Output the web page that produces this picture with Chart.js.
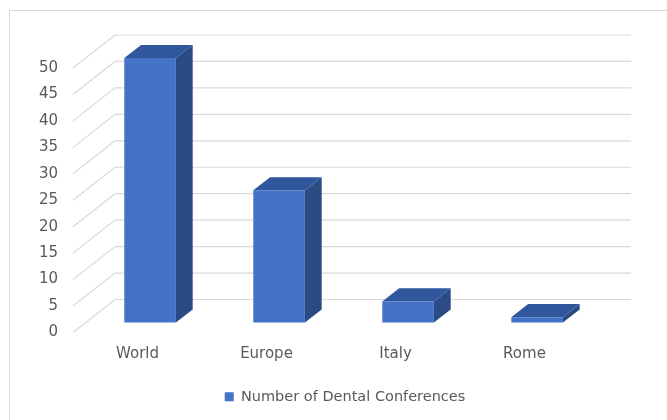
<!DOCTYPE html>
<html>
<head>
<meta charset="utf-8">
<script src="https://cdn.jsdelivr.net/npm/chart.js@4/dist/chart.umd.min.js"></script>
<style>
  html, body { margin: 0; padding: 0; background: #fff; }
  #wrap { position: relative; width: 667px; height: 420px; }
</style>
</head>
<body>
<div id="wrap"><canvas id="c" width="667" height="420"></canvas></div>
<script>
const categories = ["World", "Europe", "Italy", "Rome"];
const seriesName = "Number of Dental Conferences";
const conferences = [50, 25, 4, 1];
const yTickValues = [0, 5, 10, 15, 20, 25, 30, 35, 40, 45, 50];

const FONT = "'DejaVu Sans', sans-serif";
const TEXT = '#595959';
const FRONT = '#4472C4', TOP = '#30569C', SIDE = '#2B4B84';
const GRID = '#D9D9D9';
// 3D projection of full floor depth
const DX = 42, DY = -33;
const BAR_FRONT = 0.3, BAR_DEPTH = 0.4;

const threeD = {
  id: 'threeD',
  beforeDraw(chart) {
    const ctx = chart.ctx;
    ctx.save();
    ctx.strokeStyle = GRID;
    ctx.lineWidth = 1;
    ctx.beginPath();
    ctx.moveTo(9.5, 10); ctx.lineTo(9.5, 420);
    ctx.moveTo(9, 10.5); ctx.lineTo(667, 10.5);
    ctx.stroke();
    const ys = chart.scales.y, a = chart.chartArea;
    ctx.lineWidth = 1.2;
    ys.ticks.forEach(t => {
      const y = ys.getPixelForValue(t.value);
      ctx.beginPath();
      ctx.moveTo(a.left, y);
      ctx.lineTo(a.left + DX, y + DY);
      ctx.lineTo(a.right + DX, y + DY);
      ctx.stroke();
    });
    ctx.restore();
  },
  beforeDatasetsDraw(chart) {
    const ctx = chart.ctx;
    ctx.save();
    ctx.translate(DX * BAR_FRONT, DY * BAR_FRONT);
    const dx = DX * BAR_DEPTH, dy = DY * BAR_DEPTH;
    chart.getDatasetMeta(0).data.forEach(bar => {
      const p = bar.getProps(['x', 'y', 'base', 'width'], true);
      const L = p.x - p.width / 2, R = p.x + p.width / 2;
      ctx.fillStyle = SIDE;
      ctx.beginPath();
      ctx.moveTo(R, p.y); ctx.lineTo(R + dx, p.y + dy);
      ctx.lineTo(R + dx, p.base + dy); ctx.lineTo(R, p.base);
      ctx.closePath(); ctx.fill();
      ctx.fillStyle = TOP;
      ctx.beginPath();
      ctx.moveTo(L, p.y); ctx.lineTo(R, p.y);
      ctx.lineTo(R + dx, p.y + dy); ctx.lineTo(L + dx, p.y + dy);
      ctx.closePath(); ctx.fill();
    });
  },
  afterDatasetsDraw(chart) {
    chart.ctx.restore();
  }
};

new Chart(document.getElementById('c'), {
  type: 'bar',
  data: {
    labels: categories,
    datasets: [{
      label: seriesName,
      data: conferences,
      backgroundColor: FRONT,
      borderWidth: 0,
      categoryPercentage: 1,
      barPercentage: 0.4,
      clip: false
    }]
  },
  options: {
    responsive: false,
    animation: false,
    devicePixelRatio: 1,
    layout: { padding: { left: 23, right: 0, top: 68, bottom: 6 } },
    scales: {
      x: {
        grid: { display: false, drawTicks: false },
        border: { display: false },
        ticks: { color: TEXT, font: { family: FONT, size: 15 }, padding: 13, maxRotation: 0 },
        afterFit(s) { s.height = 47; }
      },
      y: {
        min: 0, max: 50,
        grid: { display: false, drawTicks: false },
        border: { display: false },
        afterBuildTicks(s) { s.ticks = yTickValues.map(v => ({ value: v })); },
        ticks: { color: TEXT, font: { family: FONT, size: 15 }, padding: 15 },
        afterFit(s) { s.width = 50; }
      },
      spacer: {
        type: 'linear',
        position: 'right',
        grid: { display: false, drawTicks: false },
        border: { display: false },
        ticks: { display: false },
        afterFit(s) { s.width = 78; }
      }
    },
    plugins: {
      legend: {
        position: 'bottom',
        labels: { color: TEXT, font: { family: FONT, size: 14.5 }, boxWidth: 9, boxHeight: 9, padding: 10 }
      },
      tooltip: { enabled: false }
    }
  },
  plugins: [threeD]
});
</script>
</body>
</html>
